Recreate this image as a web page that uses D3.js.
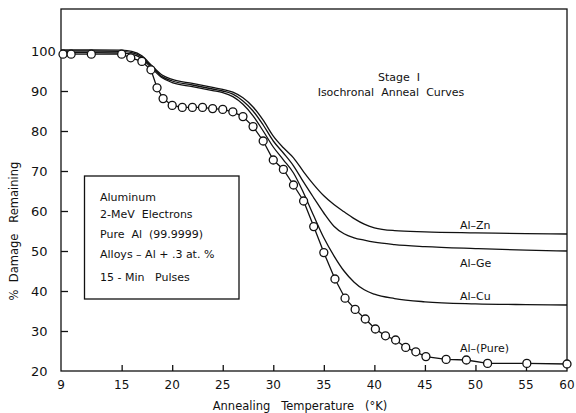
<!DOCTYPE html>
<html><head><meta charset="utf-8">
<script src="https://cdn.jsdelivr.net/npm/d3@7/dist/d3.min.js"></script>
<style>
html,body{margin:0;padding:0;background:#fff;}
svg text{font-family:"DejaVu Sans",sans-serif;fill:#111;white-space:pre;}
</style></head>
<body>
<svg id="chart" width="576" height="413"></svg>
<script>
// ---- data ----
const xTicks = [9, 15, 20, 25, 30, 35, 40, 45, 50, 55, 60];
const yTicks = [20, 30, 40, 50, 60, 70, 80, 90, 100];

const alloyT = [9,12,15,16,17,18,19,20,22,24,25,26,27,28,29,30,31,32,33,34,35,36,37,38,39,40,42,45,50,55,60];
const znV = [100.3,100.3,100.2,99.9,98.8,96.3,94,92.9,91.9,90.9,90.4,89.7,88.3,86,82.7,78.7,75.8,73.3,69.8,66.6,63.8,61.6,59.8,58.1,56.7,55.8,55.1,54.8,54.55,54.35,54.25];
const geV = [100,100,99.9,99.6,98.5,96,93.6,92.5,91.5,90.5,90,89.2,87.5,85,81.5,77.5,74.5,71.3,67.2,63.3,59.5,56.2,54.3,53.3,52.7,52.2,51.6,51.1,50.6,50.2,50];
const cuV = [99.6,99.6,99.5,99.2,98.1,95.6,93.3,92.1,91.1,90.1,89.6,88.6,86.7,83.8,80,76,72.8,69.5,64.5,58.8,53.3,48.8,45,42.2,40.3,39.2,38.1,37.3,36.8,36.6,36.5];

const pureT = [9.2,10,12,15,15.9,17,17.9,18.5,19.1,20,21,22,23,24,25,26,27,28,29,30,31,32,33,34,35,36.1,37.1,38.1,39.1,40.1,41.1,42.1,43.1,44.1,45.1,47.1,49.1,51.2,55.1,60];
const pureV = [99.2,99.2,99.2,99.2,98.3,97.4,95.3,90.8,88.1,86.4,85.9,85.9,85.9,85.6,85.4,84.8,83.6,81.1,77.5,72.75,70.4,66.5,62.5,56.1,49.6,43,38.2,35.4,33,30.5,28.8,27.75,25.9,24.8,23.6,22.9,22.75,21.9,21.9,21.75];

const curveLabels = ["Al\u2013Zn", "Al\u2013Ge", "Al\u2013Cu", "Al\u2013(Pure)"];
const legendLines = ["Aluminum", "2-MeV  Electrons", "Pure  Al  (99.9999)", "Alloys \u2013 Al + .3 at. %", "15 - Min   Pulses"];
const titleLines = ["Stage  I", "Isochronal  Anneal  Curves"];

// ---- layout ----
const svg = d3.select("#chart");
const x = d3.scaleLinear().domain([9, 55, 60]).range([61, 526, 567]);
const y = d3.scaleLinear().domain([20, 110.5]).range([371, 9]);
const ink = "#111";

// frame
svg.append("rect").attr("x", x(9)).attr("y", y(110.5))
  .attr("width", x(60) - x(9)).attr("height", y(20) - y(110.5))
  .attr("fill", "none").attr("stroke", ink).attr("stroke-width", 1.3);

// axes
const xAxis = d3.axisBottom(x).tickValues(xTicks).tickSize(-6).tickFormat("");
const gx = svg.append("g").attr("transform", `translate(0,${y(20)})`).call(xAxis);
gx.select(".domain").remove();
gx.selectAll("line").attr("stroke", ink).attr("stroke-width", 1.3);
gx.selectAll(".tick").filter(d => d === 9 || d === 60).select("line").remove();

const yAxis = d3.axisLeft(y).tickValues(yTicks).tickSize(-7).tickFormat("");
const gy = svg.append("g").attr("transform", `translate(${x(9)},0)`).call(yAxis);
gy.select(".domain").remove();
gy.selectAll("line").attr("stroke", ink).attr("stroke-width", 1.3);
gy.selectAll(".tick").filter(d => d === 20).select("line").remove();

// tick labels
svg.append("g").selectAll("text").data(xTicks).join("text")
  .attr("x", d => x(d)).attr("y", 389).attr("text-anchor", "middle")
  .attr("font-size", 12).text(d => d);
svg.append("g").selectAll("text").data(yTicks).join("text")
  .attr("x", 31).attr("y", d => y(d) + 4.5).attr("text-anchor", "start")
  .attr("font-size", 13).text(d => d);

// axis titles
svg.append("text").attr("x", 300).attr("y", 410).attr("text-anchor", "middle")
  .attr("font-size", 11.5).text("Annealing   Temperature   (\u00B0K)");
svg.append("text").attr("transform", "translate(18,231) rotate(-90)")
  .attr("text-anchor", "middle").attr("font-size", 11.5)
  .text("%  Damage   Remaining");

// alloy curves
const line = d3.line().x(d => x(d[0])).y(d => y(d[1])).curve(d3.curveMonotoneX);
[znV, geV, cuV].forEach(vals => {
  svg.append("path").datum(alloyT.map((t, i) => [t, vals[i]]))
    .attr("d", line).attr("fill", "none").attr("stroke", ink).attr("stroke-width", 1.3);
});

// pure curve with circles
const pureData = pureT.map((t, i) => [t, pureV[i]]);
svg.append("path").datum(pureData)
  .attr("d", d3.line().x(d => x(d[0])).y(d => y(d[1])))
  .attr("fill", "none").attr("stroke", ink).attr("stroke-width", 1.3);
svg.append("g").selectAll("circle").data(pureData).join("circle")
  .attr("cx", d => x(d[0])).attr("cy", d => y(d[1])).attr("r", 4)
  .attr("fill", "#fff").attr("stroke", ink).attr("stroke-width", 1.3);

// curve labels
const labelPos = [[460, 229], [460, 267], [460, 300], [460, 352]];
svg.append("g").selectAll("text").data(curveLabels).join("text")
  .attr("x", (d, i) => labelPos[i][0]).attr("y", (d, i) => labelPos[i][1])
  .attr("font-size", 11).text(d => d);

// title
svg.append("text").attr("x", 399).attr("y", 81).attr("text-anchor", "middle")
  .attr("font-size", 11).text(titleLines[0]);
svg.append("text").attr("x", 391).attr("y", 96).attr("text-anchor", "middle")
  .attr("font-size", 11).text(titleLines[1]);

// legend box
svg.append("rect").attr("x", 84.5).attr("y", 176).attr("width", 154.5).attr("height", 123)
  .attr("fill", "#fff").attr("stroke", ink).attr("stroke-width", 1.3);
const legY = [201, 218, 238, 258, 281];
svg.append("g").selectAll("text").data(legendLines).join("text")
  .attr("x", 100).attr("y", (d, i) => legY[i]).attr("font-size", 11).text(d => d);
</script>
</body></html>
